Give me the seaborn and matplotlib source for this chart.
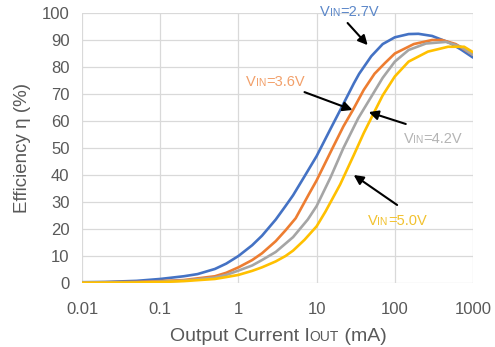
import numpy as np
import pandas as pd
import seaborn as sns
import matplotlib
matplotlib.use("Agg")
import matplotlib.pyplot as plt
from matplotlib.offsetbox import TextArea, HPacker, AnnotationBbox

# values (output current in mA, efficiency in %)
i_27 = [0.01, 0.02, 0.05, 0.1, 0.2, 0.3, 0.5, 0.7, 1, 1.5, 2, 3, 4, 5, 7, 10, 15, 20, 25, 30, 35, 50, 70,
        100, 150, 200, 300, 500, 700, 1000]
eff_27 = [0.3, 0.4, 0.8, 1.5, 2.5, 3.3, 5.2, 7.2, 10, 14, 17.5, 23.5, 28.5, 32.5, 39.5, 47, 57, 64, 69.5, 74, 77.5, 84, 88.5,
          91, 92.2, 92.3, 91.5, 89, 86.5, 83.5]

i_36 = [0.01, 0.05, 0.1, 0.2, 0.5, 0.7, 1, 1.5, 2, 3, 4, 5.4, 8, 10, 16, 22, 29, 40, 55, 75,
        100, 175, 300, 400, 600, 1000]
eff_36 = [0.2, 0.4, 0.7, 1.1, 2.5, 3.8, 5.8, 8.5, 11, 15.5, 19.5, 24, 33, 38, 50, 58, 64, 71.5, 77.5, 81.5,
          85, 88.5, 90, 90, 88.5, 84.5]

i_42 = [0.01, 0.05, 0.1, 0.2, 0.5, 0.7, 1, 1.5, 2, 3, 5, 7.7, 10, 15, 22, 34, 50, 70,
        100, 150, 250, 450, 700, 1000]
eff_42 = [0.2, 0.3, 0.5, 0.9, 2, 3, 4.6, 6.5, 8.5, 11.5, 17, 23.5, 28.5, 39, 50, 61, 69, 76,
          82, 86.3, 88.7, 89.3, 87.5, 84.5]

i_50 = [0.01, 0.05, 0.1, 0.2, 0.5, 0.7, 1, 1.5, 2, 3, 4, 5, 7, 10, 13, 20, 30, 40, 55, 70,
        100, 150, 265, 480, 770, 1000]
eff_50 = [0.1, 0.2, 0.35, 0.7, 1.5, 2.2, 3, 4.5, 5.8, 8, 10, 12, 16, 21, 26.5, 36.5, 47.5, 55.5, 63.5, 69.5,
          76.5, 82, 85.7, 87.5, 87.5, 85.5]

series = ["2.7V", "3.6V", "4.2V", "5.0V"]
colors = ["#4472C4", "#ED7D31", "#A5A5A5", "#FFC000"]
text_colors = ["#5B87C9", "#F2A06A", "#B4B4B4", "#F2C230"]

frames = []
for name, x, y in zip(series, [i_27, i_36, i_42, i_50], [eff_27, eff_36, eff_42, eff_50]):
    frames.append(pd.DataFrame({"iout": x, "eff": y, "vin": name}))
df = pd.concat(frames, ignore_index=True)

sns.set_theme(style="white")
plt.rcParams["font.family"] = ["Liberation Sans", "DejaVu Sans"]

fig = plt.figure(figsize=(4.95, 3.47), dpi=100)
ax = fig.add_axes([0.1657, 0.1844, 0.7899, 0.7781])

sns.lineplot(data=df, x="iout", y="eff", hue="vin", palette=colors,
             estimator=None, sort=True, linewidth=1.9, legend=False, ax=ax)

ax.set_xscale("log")
ax.set_xlim(0.01, 1000)
ax.set_ylim(0, 100)
ax.set_yticks(range(0, 101, 10))
ax.set_xticks([0.01, 0.1, 1, 10, 100, 1000])
ax.set_xticklabels(["0.01", "0.1", "1", "10", "100", "1000"])
ax.minorticks_off()
ax.grid(True, color="#D9D9D9", linewidth=0.9)
ax.set_axisbelow(True)
for s in ax.spines.values():
    s.set_visible(False)
ax.tick_params(axis="both", length=0, labelsize=12, colors="#595959")
ax.tick_params(axis="x", pad=14)
ax.tick_params(axis="y", pad=9)

ax.set_xlabel("")
ax.set_ylabel("Efficiency η (%)", fontsize=13.5, color="#595959", labelpad=8)


def vin_label(value, color, big=10.5, small=7.5):
    parts = [TextArea("V", textprops=dict(color=color, size=big)),
             TextArea("IN", textprops=dict(color=color, size=small)),
             TextArea("=" + value, textprops=dict(color=color, size=big))]
    return HPacker(children=parts, align="baseline", pad=0, sep=0)


# labels: (text center, arrow tail, arrow head) in data coordinates
labels = [
    ((26.1, 100.4), (24.9, 96.3), (45, 88.1)),
    ((2.98, 74.4), (7.0, 70.7), (28.8, 64.1)),
    ((307, 53.3), (138, 58.9), (46.4, 63.3)),
    ((107, 23.0), (107, 28.9), (29.8, 40.0)),
]
for name, tc, (center, tail, head) in zip(series, text_colors, labels):
    ab = AnnotationBbox(vin_label(name, tc), center, xycoords="data",
                        frameon=False, box_alignment=(0.5, 0.5), annotation_clip=False)
    ax.add_artist(ab)
    ax.annotate("", xy=head, xytext=tail,
                arrowprops=dict(arrowstyle="-|>", color="black", lw=1.5,
                                mutation_scale=14, shrinkA=0, shrinkB=0))

# x axis label with small caps subscript
xl = HPacker(children=[
    TextArea("Output Current I", textprops=dict(color="#595959", size=14)),
    TextArea("OUT", textprops=dict(color="#595959", size=10)),
    TextArea(" (mA)", textprops=dict(color="#595959", size=14)),
], align="baseline", pad=0, sep=0)
fig.add_artist(AnnotationBbox(xl, (0.5626, 0.03), xycoords="figure fraction",
                              frameon=False, box_alignment=(0.5, 0.5)))

fig.savefig("out.png", dpi=100)
